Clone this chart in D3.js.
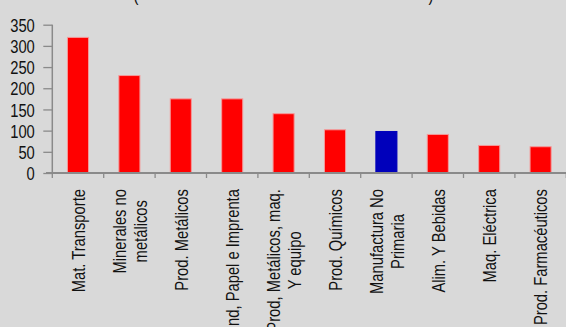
<!DOCTYPE html>
<html>
<head>
<meta charset="utf-8">
<script src="https://cdn.jsdelivr.net/npm/d3@7"></script>
<style>
  html, body { margin: 0; padding: 0; background: #d9d9d9; }
  svg { display: block; }
  text { font-family: "Liberation Sans", Arial, sans-serif; fill: #111; }
</style>
</head>
<body>
<svg id="chart" width="566" height="327"></svg>
<script>
// ---- data ----
const categories = [
  "Mat. Transporte",
  "Minerales no metálicos",
  "Prod. Metálicos",
  "Ind, Papel e Imprenta",
  "Prod, Metálicos, maq. Y equipo",
  "Prod. Químicos",
  "Manufactura No Primaria",
  "Alim. Y Bebidas",
  "Maq. Eléctrica",
  "Prod. Farmacéuticos"
];
const labelLines = [
  ["Mat. Transporte"],
  ["Minerales no", "metálicos"],
  ["Prod. Metálicos"],
  ["Ind, Papel e Imprenta"],
  ["Prod, Metálicos, maq.", "Y equipo"],
  ["Prod. Químicos"],
  ["Manufactura No", "Primaria"],
  ["Alim. Y Bebidas"],
  ["Maq. Eléctrica"],
  ["Prod. Farmacéuticos"]
];
const values = [320, 230, 175, 175, 140, 102, 98, 91, 65, 62];
const highlight = "Manufactura No Primaria";
const yTicks = [0, 50, 100, 150, 200, 250, 300, 350];

// ---- layout ----
const FS = 18, NARROW = 0.82, LH = 20.7;
const svg = d3.select("#chart");
const x = d3.scaleBand().domain(categories).range([52.3, 566.3]).padding(0);
const y = d3.scaleLinear().domain([0, 350]).range([173, 24.7]);
const barW = x.bandwidth() * 0.41;

// title remnants (parentheses cut off at top)
svg.append("text").attr("transform", `translate(136,1) scale(${NARROW},1)`)
  .attr("text-anchor", "middle").style("font-size", FS + "px").text("(");
svg.append("text").attr("transform", `translate(431,1) scale(${NARROW},1)`)
  .attr("text-anchor", "middle").style("font-size", FS + "px").text(")");

// bars
svg.append("g").selectAll("rect").data(categories).join("rect")
  .attr("x", (d) => x(d) + (x.bandwidth() - barW) / 2)
  .attr("width", barW)
  .attr("y", (d, i) => y(values[i]))
  .attr("height", (d, i) => y(0) - y(values[i]))
  .attr("fill", (d) => d === highlight ? "#0000bb" : "#ff0000")
  .attr("stroke", (d) => d === highlight ? "#0000bb" : "#f49a9a")
  .attr("stroke-width", 1);

// y axis
const axisColor = "#8a8a8a";
const gy = svg.append("g").attr("transform", "translate(52.3,0)")
  .call(d3.axisLeft(y).tickValues(yTicks).tickSize(9).tickPadding(0).tickFormat(d3.format("d")));
gy.select(".domain").attr("stroke", axisColor).attr("stroke-width", 1.5).attr("d", `M0,${y(350)}V${y(0)}`);
gy.selectAll(".tick line").attr("stroke", axisColor).attr("stroke-width", 1.3);
gy.selectAll(".tick text").each(function() {
  const t = d3.select(this);
  t.attr("x", null).attr("dy", null)
   .attr("text-anchor", "end")
   .attr("dominant-baseline", "central")
   .attr("transform", `translate(-17.5,0) scale(${NARROW},1)`)
   .style("font-size", FS + "px")
   .style("font-family", '"Liberation Sans", Arial, sans-serif')
   .attr("fill", "#111");
});

// x axis line + ticks at category boundaries
const boundaries = categories.map((c) => x(c)).concat([x.range()[1]]);
svg.append("line").attr("x1", 46).attr("x2", 566).attr("y1", y(0)).attr("y2", y(0))
  .attr("stroke", axisColor).attr("stroke-width", 2);
svg.append("g").selectAll("line").data(boundaries).join("line")
  .attr("x1", (d) => d).attr("x2", (d) => d)
  .attr("y1", y(0)).attr("y2", y(0) + 5)
  .attr("stroke", axisColor).attr("stroke-width", 1.3);

// category labels, rotated, anchored at top
const TOP = 189;
const labG = svg.append("g");
categories.forEach((c, i) => {
  const lines = labelLines[i];
  const cx = x(c) + x.bandwidth() / 2;
  const g = labG.append("g");
  const texts = lines.map((ln) => g.append("text").style("font-size", FS + "px")
    .attr("text-anchor", "middle").text(ln));
  const maxW = d3.max(texts, (t) => t.node().getComputedTextLength()) * NARROW;
  const n = lines.length;
  texts.forEach((t, j) => {
    const bx = cx + (j - (n - 1) / 2) * LH + 6.8;
    const by = TOP + maxW / 2;
    t.attr("transform", `translate(${bx},${by}) rotate(-90) scale(${NARROW},1)`);
  });
});
</script>
</body>
</html>
